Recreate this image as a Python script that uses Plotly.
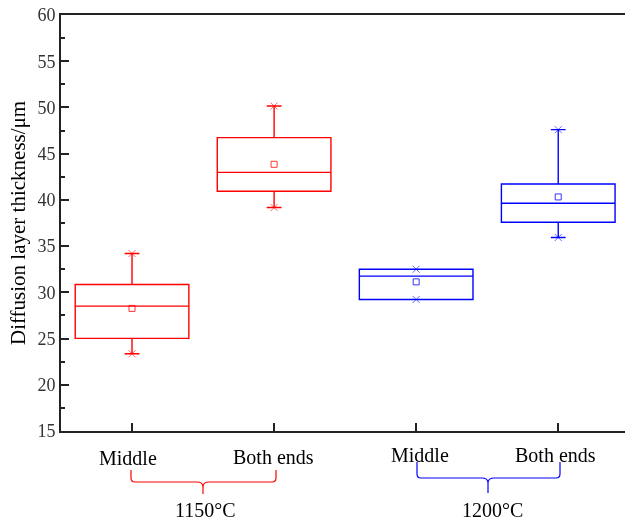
import plotly.graph_objects as go

# ---------------- data ----------------
positions = [1, 2, 3, 4]
group_labels = ["Middle", "Both ends", "Middle", "Both ends"]
temps = ["1150°C", "1200°C"]

red_x = [1, 2]
red_min = [23.35, 39.17]
red_q1 = [25.02, 40.93]
red_median = [28.51, 42.98]
red_q3 = [30.85, 46.73]
red_max = [34.2, 50.15]
red_mean = [28.26, 43.85]

blue_x = [3, 4]
blue_min = [29.23, 35.93]
blue_q1 = [29.23, 37.58]
blue_median = [31.75, 39.64]
blue_q3 = [32.50, 41.72]
blue_max = [32.50, 47.60]
blue_mean = [31.13, 40.32]

y_ticks = [15, 20, 25, 30, 35, 40, 45, 50, 55, 60]

RED = "#FF0000"
BLUE = "#0000FF"
FONT = "Liberation Serif"

W, H = 625, 520
L, R, T, B = 61, 0, 15, 89
PW, PH = W - L - R, H - T - B


def px_x(px):
    return (px - L) / PW


def px_y(py):
    return (H - B - py) / PH


fig = go.Figure()

for xs, q1, med, q3, lo, hi, mean, col in [
    (red_x, red_q1, red_median, red_q3, red_min, red_max, red_mean, RED),
    (blue_x, blue_q1, blue_median, blue_q3, blue_min, blue_max, blue_mean, BLUE),
]:
    fig.add_trace(go.Box(
        x=xs, q1=q1, median=med, q3=q3, lowerfence=lo, upperfence=hi,
        width=0.8, whiskerwidth=0.13, boxpoints=False,
        line=dict(color=col, width=1.4), fillcolor="rgba(0,0,0,0)",
        showlegend=False, hoverinfo="skip",
    ))
    fig.add_trace(go.Scatter(
        x=xs + xs, y=lo + hi, mode="markers", opacity=0.6,
        marker=dict(symbol="x-thin", size=7, line=dict(color=col, width=1)),
        showlegend=False, hoverinfo="skip",
    ))
    fig.add_trace(go.Scatter(
        x=xs, y=mean, mode="markers", opacity=0.8,
        marker=dict(symbol="square-open", size=6, color=col, line=dict(color=col, width=1)),
        showlegend=False, hoverinfo="skip",
    ))

# category labels
label_px = [(128, 458), (273, 457), (420, 455), (555, 455)]
for (lx, ly), txt in zip(label_px, group_labels):
    fig.add_annotation(x=px_x(lx), y=px_y(ly), xref="paper", yref="paper",
                       text=txt, showarrow=False, xanchor="center", yanchor="middle",
                       font=dict(family=FONT, size=20, color="black"))


def brace(x0, x1, ytop, yh, cx, ybot, col):
    r = 4
    p = (f"M {px_x(x0)},{px_y(ytop)} L {px_x(x0)},{px_y(yh - r)} "
         f"Q {px_x(x0)},{px_y(yh)} {px_x(x0 + r)},{px_y(yh)} "
         f"L {px_x(cx - 6)},{px_y(yh)} Q {px_x(cx)},{px_y(yh)} {px_x(cx)},{px_y(yh + 5)} "
         f"L {px_x(cx)},{px_y(ybot)} M {px_x(cx)},{px_y(yh + 5)} "
         f"Q {px_x(cx)},{px_y(yh)} {px_x(cx + 6)},{px_y(yh)} "
         f"L {px_x(x1 - r)},{px_y(yh)} Q {px_x(x1)},{px_y(yh)} {px_x(x1)},{px_y(yh - r)} "
         f"L {px_x(x1)},{px_y(ytop)}")
    fig.add_shape(type="path", path=p, xref="paper", yref="paper",
                  line=dict(color=col, width=1.2))


brace(131, 276, 470, 482, 203, 494, RED)
brace(417, 560, 462, 478, 488, 493, BLUE)

for (tx, ty), txt in zip([(205, 510), (492, 510)], temps):
    fig.add_annotation(x=px_x(tx), y=px_y(ty), xref="paper", yref="paper",
                       text=txt, showarrow=False, xanchor="center", yanchor="middle",
                       font=dict(family=FONT, size=20, color="black"))

# y title
fig.add_annotation(x=px_x(18), y=0.5, xref="paper", yref="paper",
                   text="Diffusion layer thickness/μm", textangle=-90, showarrow=False,
                   xanchor="center", yanchor="middle",
                   font=dict(family=FONT, size=21, color="black"))

fig.update_layout(
    width=W, height=H,
    margin=dict(l=L, r=R, t=T, b=B),
    plot_bgcolor="white", paper_bgcolor="white",
    font=dict(family=FONT, size=18, color="black"),
    xaxis=dict(range=[0.5, 4.47], tickvals=positions, showticklabels=False,
               ticks="inside", ticklen=8, tickwidth=1.5, tickcolor="#222",
               showline=True, linecolor="#222", linewidth=2, mirror=True,
               showgrid=False, zeroline=False),
    yaxis=dict(range=[15, 60], tickvals=y_ticks, ticks="inside", ticklen=8,
               tickwidth=1.5, tickcolor="#222",
               minor=dict(ticks="inside", ticklen=4, tickwidth=1.5, tickcolor="#222", dtick=2.5),
               showline=True, linecolor="#222", linewidth=2, mirror=False,
               showgrid=False, zeroline=False,
               tickfont=dict(family=FONT, size=18, color="#333")),
)

fig.write_html("out.html")
